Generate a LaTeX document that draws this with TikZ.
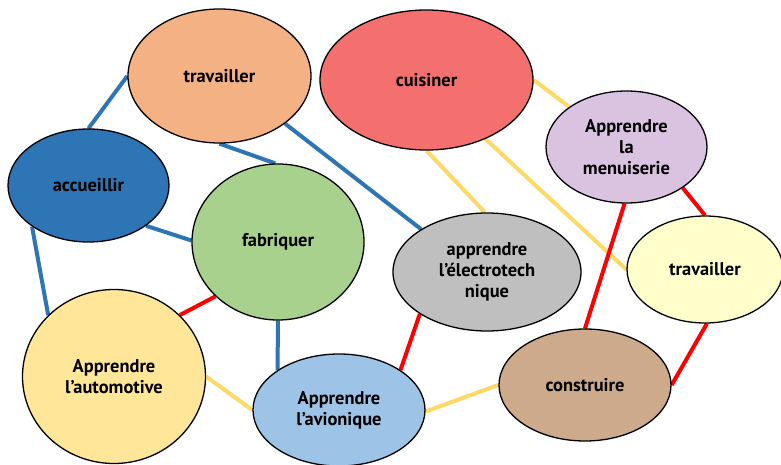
\documentclass[tikz,border=0pt]{standalone}
\usepackage{fontspec}
\setmainfont{PT Sans}
\usetikzlibrary{shapes.geometric,backgrounds}
\definecolor{lnblue}{HTML}{2E75B6}
\definecolor{lnyellow}{HTML}{FFD966}
\definecolor{lnred}{HTML}{FF0000}
\definecolor{fOrange}{HTML}{F4B183}
\definecolor{fBlue}{HTML}{2E75B6}
\definecolor{fRed}{HTML}{F4706F}
\definecolor{fLilac}{HTML}{D9C3E0}
\definecolor{fGreen}{HTML}{A9D18E}
\definecolor{fGray}{HTML}{BFBFBF}
\definecolor{fCream}{HTML}{FFFFCC}
\definecolor{fYellow}{HTML}{FFE699}
\definecolor{fSky}{HTML}{9DC3E6}
\definecolor{fTan}{HTML}{CDAA8C}
\begin{document}
\begin{tikzpicture}[x=1bp,y=-1bp,
  bubble/.style={ellipse,draw=black,line width=1.3bp,inner sep=0pt,align=center,
    font=\fontsize{18.5}{21}\selectfont\bfseries,text=black},
  blueline/.style={draw=lnblue,line width=4bp},
  yellowline/.style={draw=lnyellow,line width=4bp},
  redline/.style={draw=lnred,line width=4bp}]
\useasboundingbox (0,0) rectangle (781,465);
% nodes
\node[bubble,fill=fOrange,minimum width=183bp,minimum height=134bp] (trava) at (219.5,76) {travailler};
\node[bubble,fill=fBlue,minimum width=161bp,minimum height=113bp] (accu) at (88.5,185.5) {accueillir};
\node[bubble,fill=fRed,minimum width=213bp,minimum height=140bp] (cuis) at (426.5,80) {cuisiner};
\node[bubble,fill=fLilac,minimum width=161bp,minimum height=112bp] (menu) at (626.5,147) {Apprendre\\la\\menuiserie};
\node[bubble,fill=fGreen,minimum width=172bp,minimum height=156bp] (fabr) at (278,242) {fabriquer};
\node[bubble,fill=fGray,minimum width=188bp,minimum height=118bp] (elec) at (487,272) {apprendre\\l’électrotech\\nique};
\node[bubble,fill=fCream,minimum width=156bp,minimum height=107bp] (travb) at (705,269.5) {travailler};
\node[bubble,fill=fYellow,minimum width=183bp,minimum height=174bp] (auto) at (114,376.5) {Apprendre\\l’automotive};
\node[bubble,fill=fSky,minimum width=172bp,minimum height=112bp] (avio) at (339,410) {Apprendre\\l’avionique};
\node[bubble,fill=fTan,minimum width=172bp,minimum height=112bp] (cons) at (585,385) {construire};
% connectors
\begin{pgfonlayer}{background}
\fill[white] (0,0) rectangle (781,465);
\draw[blueline] (trava.180) -- (accu.90);
\draw[blueline] (trava.270) -- (fabr.92);
\draw[blueline] (trava.324.5) -- (elec.147);
\draw[blueline] (accu.325.8) -- (fabr.179);
\draw[blueline] (accu.216) -- (auto.137.2);
\draw[blueline] (fabr.270) -- (avio.147.4);
\draw[yellowline] (cuis.0) -- (menu.145.4);
\draw[yellowline] (cuis.270) -- (elec.92);
\draw[yellowline] (cuis.315.8) -- (travb.180);
\draw[yellowline] (auto.0) -- (avio.180);
\draw[yellowline] (avio.359) -- (cons.180);
\draw[redline] (menu.324.3) -- (travb.90);
\draw[redline] (menu.268) -- (cons.90);
\draw[redline] (travb.272) -- (cons.0);
\draw[redline] (elec.212.7) -- (avio.33.9);
\draw[redline] (fabr.221.4) -- (auto.43.6);
\end{pgfonlayer}
\end{tikzpicture}
\end{document}
